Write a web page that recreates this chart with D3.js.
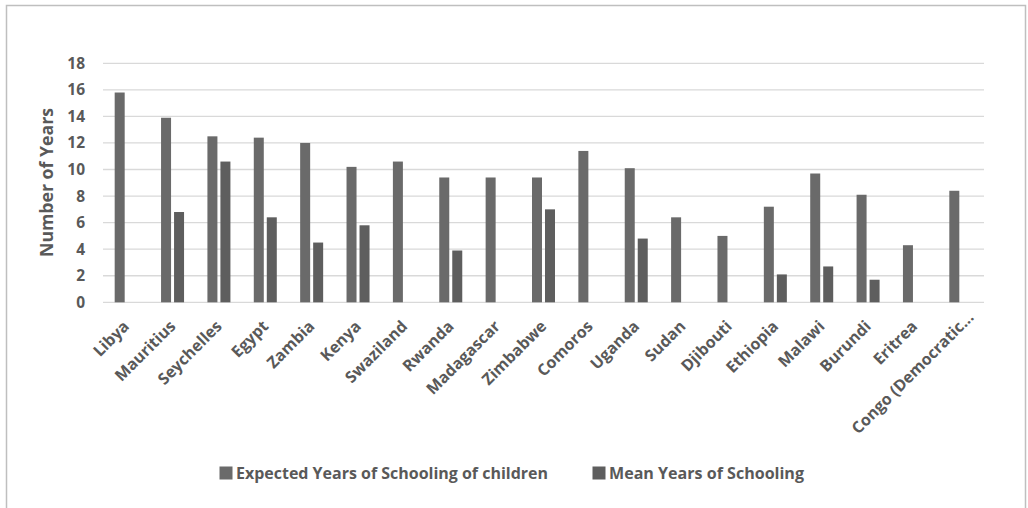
<!DOCTYPE html>
<html><head><meta charset="utf-8">
<script src="https://cdn.jsdelivr.net/npm/d3@7"></script>
<style>
html,body{margin:0;padding:0;background:#fff;}
svg{display:block;font-family:"Open Sans",sans-serif;}
</style></head>
<body>
<svg id="c" width="1028" height="508"></svg>
<script>
const categories = ["Libya","Mauritius","Seychelles","Egypt","Zambia","Kenya","Swaziland","Rwanda","Madagascar","Zimbabwe","Comoros","Uganda","Sudan","Djibouti","Ethiopia","Malawi","Burundi","Eritrea","Congo (Democratic..."];
const expectedYears = [15.8,13.9,12.5,12.4,12.0,10.2,10.6,9.4,9.4,9.4,11.4,10.1,6.4,5.0,7.2,9.7,8.1,4.3,8.4];
const meanYears =     [null,6.8,10.6,6.4,4.5,5.8,null,3.9,null,7.0,null,4.8,null,null,2.1,2.7,1.7,null,null];
const yTicks = [0,2,4,6,8,10,12,14,16,18];
const seriesNames = ["Expected Years of Schooling of children","Mean Years of Schooling"];
const seriesColors = ["#6a6a6a","#5e5e5e"];

const svg = d3.select("#c");
const mLeft = 103, mRight = 984, mTop = 63.3, mBottom = 302.3;

svg.append("rect").attr("x",6.5).attr("y",5.5).attr("width",1019).attr("height",520)
  .attr("fill","#fff").attr("stroke","#bfbfbf").attr("stroke-width",1.5);

const x = d3.scaleBand().domain(categories).range([mLeft,mRight]);
const y = d3.scaleLinear().domain([0,18]).range([mBottom,mTop]);

// gridlines
svg.append("g").selectAll("line").data(yTicks).join("line")
  .attr("x1",mLeft).attr("x2",mRight)
  .attr("y1",d=>y(d)).attr("y2",d=>y(d))
  .attr("stroke","#d9d9d9").attr("stroke-width",1.3);

// y axis
const yAxis = d3.axisLeft(y).tickValues(yTicks).tickSize(0).tickPadding(0);
const gy = svg.append("g").attr("transform",`translate(${mLeft-18},0)`).call(yAxis);
gy.select(".domain").remove();
gy.selectAll("text").attr("font-family","'Open Sans',sans-serif").attr("font-size",15.5)
  .attr("font-weight",700).attr("fill","#595959");

// bars
const barW = 10, gap = 3;
const sets = [expectedYears, meanYears];
sets.forEach((vals,si)=>{
  svg.append("g").selectAll("rect").data(categories.map((c,i)=>({c,v:vals[i]})).filter(d=>d.v!=null))
    .join("rect")
    .attr("x",d=>x(d.c)+x.bandwidth()/2 + (si===0 ? -gap/2-barW : gap/2))
    .attr("width",barW)
    .attr("y",d=>y(d.v))
    .attr("height",d=>y(0)-y(d.v))
    .attr("fill",seriesColors[si]);
});

// x labels
const xAxis = d3.axisBottom(x).tickSize(0).tickPadding(0);
const gx = svg.append("g").attr("transform",`translate(0,${mBottom})`).call(xAxis);
gx.select(".domain").remove();
gx.selectAll("text")
  .attr("font-family","'Open Sans',sans-serif").attr("font-size",16).attr("font-weight",700)
  .attr("fill","#595959").attr("text-anchor","end").attr("dy",null).attr("y",null)
  .attr("transform",d=> d.endsWith("...") ? "translate(14,16) rotate(-45)" : "translate(4,25) rotate(-45)");

// y title
svg.append("text").attr("transform","translate(53,182.5) rotate(-90)")
  .attr("text-anchor","middle").attr("font-size",17).attr("font-weight",700)
  .attr("fill","#595959").attr("textLength",149).attr("lengthAdjust","spacingAndGlyphs")
  .text("Number of Years");

// legend
const legendX = [219.5, 592.5];
const legendLen = [312, 195];
seriesNames.forEach((n,i)=>{
  svg.append("rect").attr("x",legendX[i]).attr("y",466.5).attr("width",13).attr("height",13).attr("fill",seriesColors[i]);
  svg.append("text").attr("x",legendX[i]+16.5).attr("y",478.5).attr("font-size",16).attr("font-weight",700)
    .attr("fill","#595959").attr("textLength",legendLen[i]).attr("lengthAdjust","spacingAndGlyphs").text(n);
});
</script>
</body></html>
